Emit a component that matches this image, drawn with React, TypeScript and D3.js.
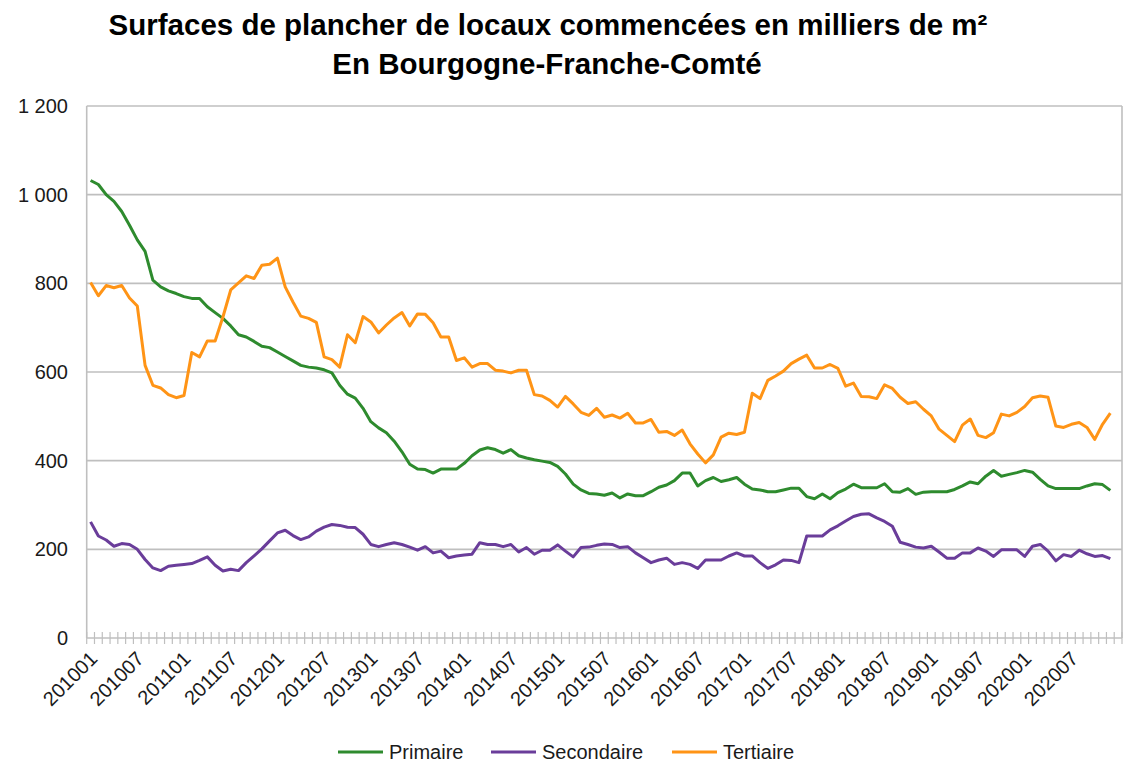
import React from "react";
import * as d3 from "d3";

// séries mensuelles 201001 -> 202012, en milliers de m²
const primaire = [
  1032, 1023, 1000, 985, 962, 931, 898, 872, 807, 792,
  783, 777, 770, 766, 766, 747, 734, 721, 704, 684,
  679, 669, 658, 655, 645, 635, 625, 615, 611, 609,
  605, 598, 570, 550, 541, 518, 488, 474, 463, 444,
  420, 392, 381, 380, 372, 381, 381, 381, 394, 411,
  424, 429, 425, 417, 425, 411, 406, 402, 399, 396,
  387, 370, 347, 334, 326, 325, 322, 327, 316, 325,
  321, 321, 330, 340, 345, 355, 372, 372, 343, 355,
  362, 353, 357, 362, 347, 336, 334, 330, 330, 334,
  338, 338, 319, 314, 325, 314, 328, 336, 347, 339,
  339, 339, 348, 330, 329, 337, 324, 329, 330, 330,
  330, 335, 343, 352, 348, 365, 378, 365, 369, 373,
  378, 374, 358, 343, 337, 337, 337, 337, 343, 348,
  346, 333,
];

const secondaire = [
  262, 230, 221, 207, 213, 211, 200, 177, 158, 152,
  162, 164, 166, 168, 175, 183, 164, 151, 155, 152,
  170, 185, 201, 219, 237, 243, 231, 222, 228, 241,
  250, 256, 254, 250, 249, 234, 211, 206, 211, 215,
  211, 205, 198, 206, 192, 196, 181, 185, 187, 189,
  215, 211, 211, 206, 211, 194, 204, 189, 198, 198,
  210, 196, 183, 204, 205, 209, 212, 211, 204, 206,
  192, 181, 170, 176, 180, 166, 170, 166, 157, 176,
  176, 176, 185, 192, 185, 185, 170, 157, 165, 176,
  175, 170, 230, 230, 230, 244, 253, 264, 274, 279,
  280, 271, 263, 252, 216, 211, 205, 203, 207, 194,
  180, 180, 192, 192, 203, 196, 184, 199, 199, 199,
  184, 207, 211, 196, 174, 188, 184, 198, 190, 184,
  186, 179,
];

const tertiaire = [
  802, 772, 795, 790, 795, 767, 749, 615, 570, 564,
  549, 542, 547, 644, 634, 670, 670, 724, 785, 801,
  817, 811, 841, 843, 857, 792, 758, 726, 721, 712,
  634, 628, 611, 684, 666, 725, 713, 688, 706, 722,
  734, 704, 731, 730, 711, 679, 679, 626, 632, 611,
  619, 619, 604, 602, 598, 604, 604, 549, 546, 536,
  521, 545, 528, 509, 502, 518, 498, 503, 496, 507,
  485, 485, 493, 464, 466, 457, 469, 438, 415, 395,
  413, 453, 462, 459, 464, 552, 540, 581, 591, 602,
  619, 629, 638, 609, 609, 617, 608, 568, 575, 545,
  544, 540, 571, 563, 543, 529, 533, 516, 501, 471,
  457, 443, 480, 494, 457, 452, 463, 505, 501, 509,
  522, 542, 546, 543, 478, 475, 482, 486, 475, 448,
  482, 507,
];

const tickLabels = [
  "201001", "201007", "201101", "201107", "201201", "201207", "201301",
  "201307", "201401", "201407", "201501", "201507", "201601", "201607",
  "201701", "201707", "201801", "201807", "201901", "201907", "202001",
  "202007",
];

const yTicks = [0, 200, 400, 600, 800, 1000, 1200];

const seriesNames = ["Primaire", "Secondaire", "Tertiaire"];
const seriesColors = ["#2e8b2e", "#6a3d9a", "#ff9416"];

// catégories du graphique (une de plus que les données, comme dans l'original)
const months: string[] = [];
for (let y = 2010; y <= 2021; y++) {
  for (let m = 1; m <= 12; m++) {
    months.push(`${y}${m < 10 ? "0" + m : m}`);
  }
}
const categories = months.slice(0, 133);

const W = 1139, H = 765;
const left = 86.7, right = 1122, top = 106, bottom = 638;

const fmt = d3.formatLocale({ decimal: ",", thousands: " ", grouping: [3], currency: ["", ""] }).format(",d");

export default function App() {
  const x = d3.scaleLinear().domain([0, categories.length]).range([left, right]);
  const y = d3.scaleLinear().domain([0, 1200]).range([bottom, top]);
  const line = d3.line<number>().x((d, i) => x(i + 0.5)).y(d => y(d));
  const all = [primaire, secondaire, tertiaire];
  const font = "'Liberation Sans', Arial, sans-serif";
  const legendX = [338, 491, 672];

  return (
    <svg width={W} height={H} style={{ position: "absolute", left: 0, top: 0, background: "#fff" }} fontFamily={font}>
      <rect x={0} y={0} width={W} height={H} fill="#fff" />
      <text x={548} y={35} textAnchor="middle" fontSize={29.5} fontWeight="bold" fill="#000">
        Surfaces de plancher de locaux commencées en milliers de m²
      </text>
      <text x={547} y={74} textAnchor="middle" fontSize={29.5} fontWeight="bold" fill="#000">
        En Bourgogne-Franche-Comté
      </text>

      {yTicks.map(t => (
        <g key={t}>
          <line x1={left} x2={right} y1={y(t)} y2={y(t)} stroke="#bfbfbf" strokeWidth={1.6} />
          <text x={68} y={y(t)} dy="0.35em" textAnchor="end" fontSize={20} fill="#1a1a1a">{fmt(t)}</text>
        </g>
      ))}
      <line x1={left} x2={left} y1={top} y2={bottom} stroke="#bfbfbf" strokeWidth={1.6} />
      <line x1={right} x2={right} y1={top} y2={bottom} stroke="#bfbfbf" strokeWidth={1.6} />

      {d3.range(categories.length + 1).map(k => (
        <line key={k} x1={x(k)} x2={x(k)} y1={bottom - 6} y2={bottom + 6} stroke="#bfbfbf" strokeWidth={1.2} />
      ))}

      {categories.map((c, i) => tickLabels.includes(c) ? (
        <text key={c} transform={`translate(${x(i + 0.5) + 3},${bottom + 17}) rotate(-45)`}
          textAnchor="end" dy="0.35em" fontSize={20} fill="#1a1a1a">{c}</text>
      ) : null)}

      {all.map((s, k) => (
        <path key={k} d={line(s) || ""} fill="none" stroke={seriesColors[k]} strokeWidth={3} strokeLinejoin="round" />
      ))}

      {seriesNames.map((n, k) => (
        <g key={n} transform={`translate(${legendX[k]},752)`}>
          <line x1={0} x2={45} y1={0} y2={0} stroke={seriesColors[k]} strokeWidth={3} />
          <text x={51} y={0} dy="0.35em" fontSize={20} fill="#1a1a1a">{n}</text>
        </g>
      ))}
    </svg>
  );
}
